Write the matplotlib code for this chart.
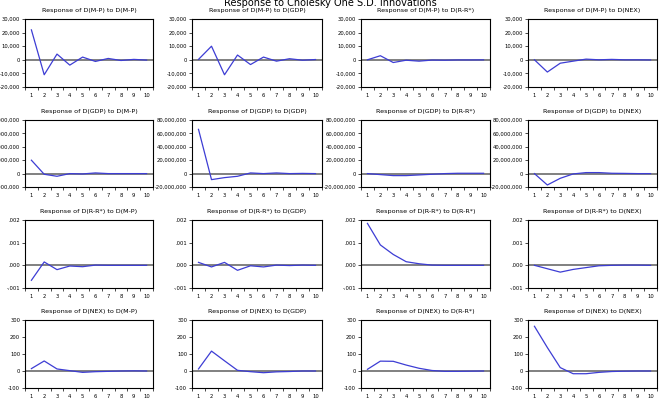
import matplotlib
matplotlib.use("Agg")
import matplotlib.pyplot as plt
from matplotlib.ticker import FuncFormatter, FixedLocator

periods = list(range(1, 11))
variables = ["D(M-P)", "D(GDP)", "D(R-R*)", "D(NEX)"]

# responses[row][col] : response of variables[row] to variables[col]
resp_mp_mp = [22000, -11000, 4200, -3900, 2000, -1200, 1000, -500, 300, -200]
resp_mp_gdp = [300, 10000, -11000, 3500, -3500, 2000, -1000, 800, -300, 200]
resp_mp_rr = [0, 3000, -2000, -300, -1000, -200, -300, -100, -100, -50]
resp_mp_nex = [0, -9000, -2500, -1000, 500, 0, 300, 0, 0, -100]

resp_gdp_mp = [20e6, -1e6, -4e6, 0, -0.5e6, 1e6, 0, 0, 0, 0]
resp_gdp_gdp = [66e6, -9e6, -6e6, -4e6, 1e6, 0, 1e6, 0, 0.3e6, 0]
resp_gdp_rr = [0, -1.5e6, -3e6, -3e6, -2e6, -1e6, 0, 0.5e6, 0.5e6, 0.5e6]
resp_gdp_nex = [0, -17e6, -7e6, -0.5e6, 1.5e6, 1.5e6, 0.5e6, 0.3e6, 0, 0]

resp_rr_mp = [-0.00066, 0.00015, -0.00019, -0.00003, -0.00006, 0.00001, 0, 0, 0, 0]
resp_rr_gdp = [0.00013, -0.00007, 0.00013, -0.00022, -0.00002, -0.00007, 0.00001, -0.00001, 0.00001, 0]
resp_rr_rr = [0.00185, 0.0009, 0.00048, 0.00016, 0.00007, 0.00001, 0, 0, 0, 0]
resp_rr_nex = [0, -0.00015, -0.0003, -0.00018, -0.0001, -0.00002, 0, 0.00001, 0.00001, 0]

resp_nex_mp = [14, 59, 12, 2, -8, -4, -2, 0, 1, 0]
resp_nex_gdp = [12, 117, 60, 4, -4, -10, -5, -3, 0, 0]
resp_nex_rr = [10, 58, 57, 35, 16, 3, -2, -2, -1, 0]
resp_nex_nex = [263, 138, 20, -16, -16, -8, -3, -1, 0, 0]

responses = [
    [resp_mp_mp, resp_mp_gdp, resp_mp_rr, resp_mp_nex],
    [resp_gdp_mp, resp_gdp_gdp, resp_gdp_rr, resp_gdp_nex],
    [resp_rr_mp, resp_rr_gdp, resp_rr_rr, resp_rr_nex],
    [resp_nex_mp, resp_nex_gdp, resp_nex_rr, resp_nex_nex],
]

row_yticks = [
    [-20000, -10000, 0, 10000, 20000, 30000],
    [-20e6, 0, 20e6, 40e6, 60e6, 80e6],
    [-0.001, 0.0, 0.001, 0.002],
    [-100, 0, 100, 200, 300],
]

def fmt_comma(v, pos):
    return f"{int(round(v)):,}"

def fmt_dec(v, pos):
    s = f"{v:.3f}"
    s = s.replace("0.", ".")
    return s

def fmt_int(v, pos):
    return f"{int(round(v))}"

row_fmt = [fmt_comma, fmt_comma, fmt_dec, fmt_int]

W, H = 661, 409
fig = plt.figure(figsize=(W / 100, H / 100), dpi=100)
fig.patch.set_facecolor("white")

col_x = [(25, 153), (192, 322), (361, 490), (528, 657)]
row_y = [(19, 87), (120, 187), (220, 288), (320, 388)]

line_color = "#3d3dd4"

for r in range(4):
    for c in range(4):
        x0, x1 = col_x[c]
        y0, y1 = row_y[r]
        ax = fig.add_axes([x0 / W, 1 - y1 / H, (x1 - x0) / W, (y1 - y0) / H])
        ax.axhline(0, color="#808080", lw=1.4, zorder=1)
        ax.plot(periods, responses[r][c], color=line_color, lw=0.9, zorder=2)
        ax.set_xlim(0.5, 10.5)
        yt = row_yticks[r]
        ax.set_ylim(yt[0], yt[-1])
        ax.yaxis.set_major_locator(FixedLocator(yt))
        ax.yaxis.set_major_formatter(FuncFormatter(row_fmt[r]))
        ax.set_xticks(periods)
        ax.set_xticklabels([str(p) for p in periods])
        ax.set_xticks([p + 0.5 for p in range(0, 11)], minor=True)
        ax.tick_params(axis="x", which="major", length=0, labelsize=3.8, pad=4)
        ax.tick_params(axis="x", which="minor", length=2, width=0.5, direction="out")
        ax.tick_params(axis="y", which="major", length=2, width=0.5, labelsize=3.8, pad=1.5)
        for s in ax.spines.values():
            s.set_linewidth(0.8)
            s.set_color("black")
        ax.set_title(f"Response of {variables[r]} to {variables[c]}", fontsize=4.6, pad=5)

fig.text(0.5, 1 - 3 / H, "Response to Cholesky One S.D. Innovations",
         ha="center", va="center", fontsize=7)

fig.savefig("out.png", dpi=100)
